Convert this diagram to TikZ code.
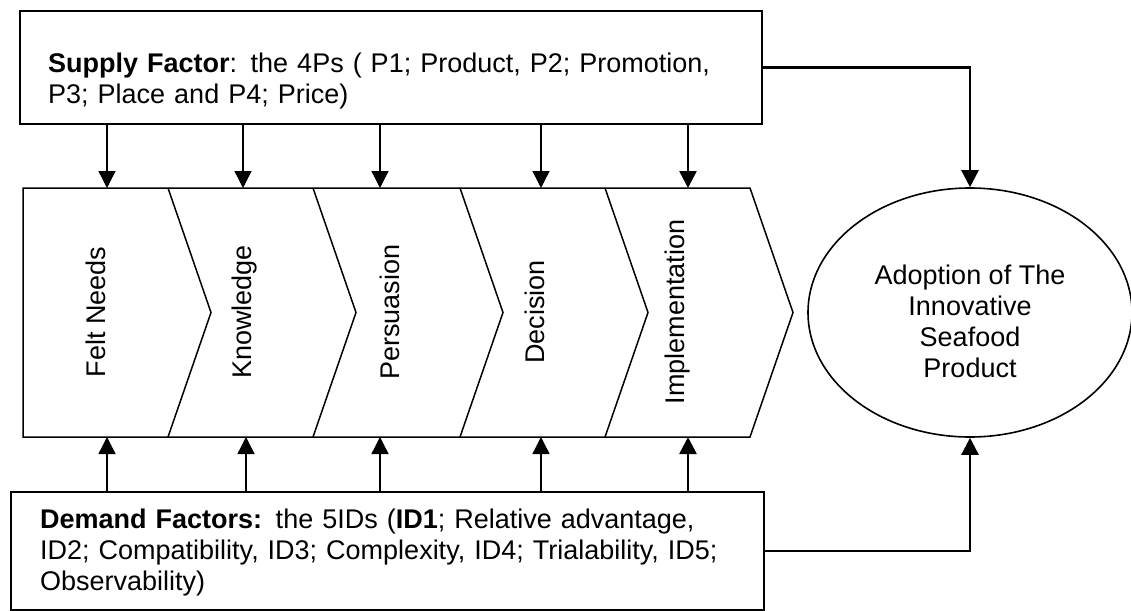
\documentclass[tikz,border=0pt]{standalone}
\usepackage{fontspec}
\setmainfont{Liberation Sans}
\usetikzlibrary{arrows.meta,shapes.geometric}
\begin{document}
\begin{tikzpicture}[x=1pt,y=-1pt,
  every node/.style={font=\fontsize{27}{31}\selectfont},
  boxline/.style={draw=black,line width=1.6pt,inner sep=0pt,anchor=north west},
  chevline/.style={draw=black,line width=1.5pt,line join=miter},
  thinarr/.style={line width=1.3pt,-{Triangle[length=17pt,width=17pt]}},
  thickarr/.style={line width=2.6pt,-{Triangle[length=17pt,width=17pt]}},
  stagetext/.style={rotate=90,inner sep=0pt,anchor=center},
  boxtext/.style={anchor=base west,inner sep=0pt,text width=710pt,align=left}
]
\useasboundingbox (0,0) rectangle (1131,610);
\fill[white] (0,0) rectangle (1131,610);

% supply box
\node[boxline,minimum width=742pt,minimum height=113pt] (supply) at (19,10) {};
\node[boxtext] (supplytext) at (48,72)
  {\textbf{Supply Factor}: the 4Ps ( P1; Product, P2; Promotion,\\P3; Place and P4; Price)};

% demand box
\node[boxline,minimum width=753pt,minimum height=118pt] (demand) at (10,491) {};
\node[boxtext,text width=720pt] (demandtext) at (40,528)
  {\textbf{Demand Factors:} the 5IDs (\textbf{ID1}; Relative advantage,\\ID2; Compatibility, ID3; Complexity, ID4; Trialability, ID5;\\Observability)};

% chevron strip
\draw[chevline] (23,188) -- (750,188) -- (793,312.5) -- (750,437) -- (23,437) -- cycle;
\foreach \xx in {168,313,460,605}{
  \draw[chevline] (\xx,188) -- (\xx+43,312.5) -- (\xx,437);
}

\node[stagetext] (felt) at (96,312) {Felt Needs};
\node[stagetext] (know) at (245,312) {Knowledge};
\node[stagetext] (pers) at (390,312) {Persuasion};
\node[stagetext] (deci) at (535,312) {Decision};
\node[stagetext] (impl) at (678,312) {Implementation};

% arrow end points on the strip
\coordinate (t1) at (107,188); \coordinate (b1) at (107,437);
\coordinate (t2) at (243,188); \coordinate (b2) at (246,437);
\coordinate (t3) at (380,188); \coordinate (b3) at (380,437);
\coordinate (t4) at (541,188); \coordinate (b4) at (541,437);
\coordinate (t5) at (688,188); \coordinate (b5) at (688,437);

\foreach \i in {1,2,3,4}{
  \draw[thinarr] (supply.south -| t\i) -- (t\i);
  \draw[thinarr] (demand.north -| b\i) -- (b\i);
}
\draw[thickarr] (supply.south -| t5) -- (t5);
\draw[thickarr] (demand.north -| b5) -- (b5);

% adoption ellipse
\node[ellipse,draw=black,line width=1.6pt,minimum width=324pt,minimum height=249pt,inner sep=0pt] (adopt) at (970,312.5) {};
\node[align=center,inner sep=0pt] (adopttext) at (970,321) {Adoption of The\\Innovative\\Seafood\\Product};

\draw[thickarr] (supply.east) -| (adopt.north);
\draw[thickarr] (demand.east) -| (adopt.south);
\end{tikzpicture}
\end{document}
